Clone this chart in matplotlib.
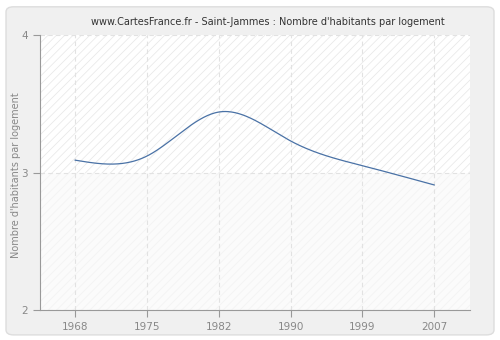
import matplotlib
matplotlib.use("Agg")
import matplotlib.pyplot as plt
from matplotlib.patches import FancyBboxPatch
import numpy as np

years = ["1968", "1975", "1982", "1990", "1999", "2007"]
values = [3.09, 3.12, 3.44, 3.23, 3.05, 2.91]
title = "www.CartesFrance.fr - Saint-Jammes : Nombre d'habitants par logement"
ylabel = "Nombre d'habitants par logement"


def natural_spline(x, y, n=400):
    x = np.asarray(x, float)
    y = np.asarray(y, float)
    k = len(x)
    h = np.diff(x)
    A = np.zeros((k, k))
    b = np.zeros(k)
    A[0, 0] = A[-1, -1] = 1
    for i in range(1, k - 1):
        A[i, i - 1] = h[i - 1]
        A[i, i] = 2 * (h[i - 1] + h[i])
        A[i, i + 1] = h[i]
        b[i] = 6 * ((y[i + 1] - y[i]) / h[i] - (y[i] - y[i - 1]) / h[i - 1])
    m = np.linalg.solve(A, b)
    xs = np.linspace(x[0], x[-1], n)
    ys = np.empty_like(xs)
    for j, t in enumerate(xs):
        i = min(np.searchsorted(x, t, side="right") - 1, k - 2)
        a, c = x[i], x[i + 1]
        hi = c - a
        ys[j] = (m[i] * (c - t) ** 3 / (6 * hi) + m[i + 1] * (t - a) ** 3 / (6 * hi)
                 + (y[i] / hi - m[i] * hi / 6) * (c - t)
                 + (y[i + 1] / hi - m[i + 1] * hi / 6) * (t - a))
    return xs, ys


plt.rcParams["font.family"] = "DejaVu Sans"
plt.rcParams["hatch.linewidth"] = 0.5

fig = plt.figure(figsize=(5, 3.4), dpi=100)
fig.patch.set_facecolor("white")
fig.patches.append(FancyBboxPatch((0.012, 0.015), 0.976, 0.965, boxstyle="round,pad=0,rounding_size=0.015",
                                  transform=fig.transFigure, facecolor="#f0f0f0",
                                  edgecolor="#dddddd", linewidth=1, zorder=-10))

ax = fig.add_axes([0.08, 0.088, 0.86, 0.809])
ax.set_facecolor("white")
ax.axhspan(3, 4, facecolor="white", edgecolor="#e6e6e6", hatch="////", linewidth=0, zorder=0)
ax.axhspan(2, 3, facecolor="#fbfbfb", edgecolor="#f2f2f2", hatch="////", linewidth=0, zorder=0)

pos = np.arange(len(years))
xs, ys = natural_spline(pos, values)
ax.plot(xs, ys, color="#4a72a6", linewidth=0.9, zorder=3)

ax.set_xlim(-0.49, 5.5)
ax.set_ylim(2, 4)
ax.set_xticks(pos)
ax.set_xticklabels(years)
ax.set_yticks([2, 3, 4])
ax.grid(True, color="#e2e2e2", linestyle=(0, (4, 3)), linewidth=0.8, zorder=1)
ax.set_axisbelow(True)

for s in ["top", "right"]:
    ax.spines[s].set_visible(False)
for s in ["left", "bottom"]:
    ax.spines[s].set_color("#999999")
ax.tick_params(colors="#999999", labelcolor="#888888", labelsize=7.5, length=5, width=0.8)

ax.set_ylabel(ylabel, color="#888888", fontsize=7)
ax.yaxis.set_label_coords(-0.045, 0.49)
fig.text(0.536, 0.935, title, fontsize=7, color="#333333", ha="center", va="center")

fig.savefig("out.png", dpi=100)
